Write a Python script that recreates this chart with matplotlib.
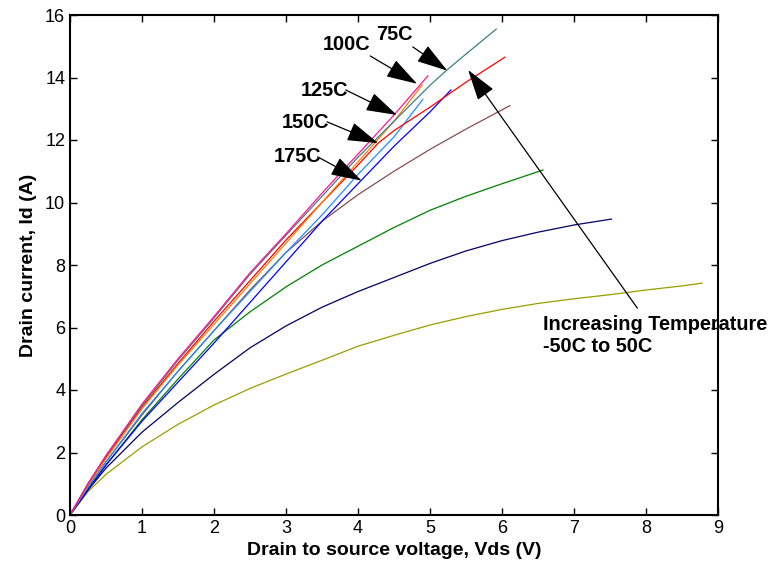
import matplotlib
matplotlib.use("Agg")
import matplotlib.pyplot as plt

# drain current vs Vds at several temperatures
x_top = [0, 0.25, 0.5, 1, 1.5, 2, 2.5, 3, 3.5, 4, 4.5, 4.97]
magenta = [0, 1.0, 1.9, 3.55, 5.0, 6.35, 7.75, 9.0, 10.3, 11.55, 12.8, 14.05]

x_teal = [0, 0.25, 0.5, 1, 1.5, 2, 2.5, 3, 3.5, 4, 4.5, 5, 5.24, 5.5, 5.92]
teal = [0, 1.0, 1.9, 3.5, 4.95, 6.3, 7.7, 8.95, 10.2, 11.45, 12.6, 13.75, 14.25, 14.75, 15.55]

x_orange = [0, 0.25, 0.5, 1, 1.5, 2, 2.5, 3, 3.5, 4, 4.5, 4.89]
orange = [0, 0.95, 1.8, 3.4, 4.8, 6.1, 7.4, 8.7, 10.0, 11.3, 12.6, 13.76]

x_lblue = [0, 0.25, 0.5, 1, 1.5, 2, 2.5, 3, 3.5, 4, 4.5, 4.9]
lblue = [0, 0.9, 1.7, 3.25, 4.6, 5.9, 7.15, 8.4, 9.6, 10.9, 12.1, 13.3]

x_red = [0, 0.25, 0.5, 1, 1.5, 2, 2.5, 3, 3.5, 4, 4.28, 4.5, 5, 5.5, 6.04]
red = [0, 1.0, 1.85, 3.45, 4.85, 6.2, 7.5, 8.8, 10.0, 11.2, 11.9, 12.3, 13.05, 13.85, 14.65]

x_blue = [0, 0.25, 0.5, 1, 1.5, 2, 2.5, 3, 3.5, 4, 4.5, 5, 5.29]
blue = [0, 0.8, 1.6, 3.0, 4.25, 5.5, 6.8, 8.1, 9.4, 10.6, 11.8, 12.9, 13.6]

x_brown = [0, 0.25, 0.5, 1, 1.5, 2, 2.5, 3, 3.5, 4, 4.5, 5, 5.5, 6.11]
brown = [0, 0.9, 1.7, 3.2, 4.6, 5.9, 7.2, 8.4, 9.4, 10.25, 11.0, 11.7, 12.35, 13.1]

x_green = [0, 0.25, 0.5, 1, 1.5, 2, 2.5, 3, 3.5, 4, 4.5, 5, 5.5, 6, 6.57]
green = [0, 0.85, 1.6, 3.05, 4.35, 5.6, 6.5, 7.3, 8.0, 8.6, 9.2, 9.75, 10.2, 10.6, 11.04]

x_navy = [0, 0.25, 0.5, 1, 1.5, 2, 2.5, 3, 3.5, 4, 4.5, 5, 5.5, 6, 6.5, 7, 7.52]
navy = [0, 0.8, 1.5, 2.65, 3.6, 4.5, 5.35, 6.05, 6.65, 7.15, 7.6, 8.05, 8.45, 8.78, 9.05, 9.28, 9.47]

x_olive = [0, 0.25, 0.5, 1, 1.5, 2, 2.5, 3, 3.5, 4, 4.5, 5, 5.5, 6, 6.5, 7, 7.5, 8, 8.5, 8.78]
olive = [0, 0.75, 1.3, 2.18, 2.9, 3.52, 4.05, 4.51, 4.95, 5.4, 5.75, 6.08, 6.35, 6.58, 6.77, 6.92, 7.05, 7.2, 7.33, 7.42]

series = [
    (x_olive, olive, "#9c9c00"),
    (x_navy, navy, "#000066"),
    (x_green, green, "#008000"),
    (x_brown, brown, "#8b4c4c"),
    (x_blue, blue, "#0000ff"),
    (x_lblue, lblue, "#1e90ff"),
    (x_red, red, "#ff0000"),
    (x_orange, orange, "#ff8000"),
    (x_teal, teal, "#3c8080"),
    (x_top, magenta, "#ff1493"),
]

temp_labels = ["75C", "100C", "125C", "150C", "175C"]
label_xy = [(4.25, 15.36), (3.51, 15.04), (3.21, 13.57), (2.94, 12.57), (2.83, 11.46)]
arrow_tail = [(4.76, 14.98), (4.17, 14.69), (3.83, 13.6), (3.57, 12.58), (3.44, 11.46)]
arrow_tip = [(5.24, 14.22), (4.82, 13.8), (4.54, 12.8), (4.28, 11.9), (4.05, 10.7)]

plt.rcParams['font.family'] = ['Liberation Sans', 'DejaVu Sans']

fig = plt.figure(figsize=(7.71, 5.69), dpi=100)
ax = fig.add_axes([70 / 771, 54 / 569, 648 / 771, 500 / 569])

for xs, ys, c in series:
    ax.plot(xs, ys, color=c, lw=0.9)

bold = dict(weight='bold', fontsize=14.3)
head = "-|>,head_length=1.3,head_width=0.4"
for lab, (lx, ly), tail, tip in zip(temp_labels, label_xy, arrow_tail, arrow_tip):
    ax.text(lx, ly, lab, ha='left', va='center', **bold)
    ax.annotate("", xy=tip, xytext=tail,
                arrowprops=dict(arrowstyle=head, color='black', lw=0.9,
                                mutation_scale=15, shrinkA=0, shrinkB=0))

ax.annotate("", xy=(5.53, 14.24), xytext=(7.88, 6.62),
            arrowprops=dict(arrowstyle=head, color='black', lw=0.9,
                            mutation_scale=15, shrinkA=0, shrinkB=0))
ax.text(6.57, 6.08, "Increasing Temperature", ha='left', va='center', clip_on=False, **bold)
ax.text(6.57, 5.38, "-50C to 50C", ha='left', va='center', clip_on=False, **bold)

ax.set_xlim(0, 9)
ax.set_ylim(0, 16)
ax.set_xticks(range(0, 10))
ax.set_yticks(range(0, 17, 2))
ax.tick_params(direction='in', top=True, right=True, length=5, width=1, labelsize=13)
for s in ax.spines.values():
    s.set_linewidth(1.5)

ax.set_xlabel("Drain to source voltage, Vds (V)", fontsize=14, fontweight='bold', labelpad=4)
ax.set_ylabel("Drain current, Id (A)", fontsize=14, fontweight='bold', labelpad=6)

fig.savefig("out.png", dpi=100)
